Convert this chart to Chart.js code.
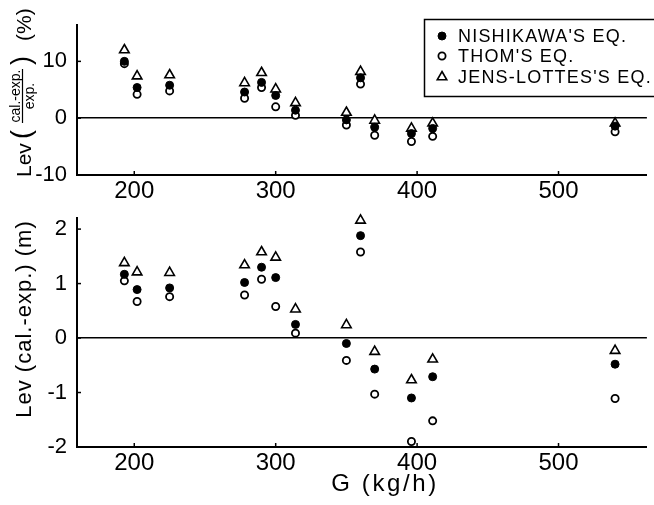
<!DOCTYPE html>
<html>
<head>
<meta charset="utf-8">
<script src="https://cdn.jsdelivr.net/npm/chart.js@4.4.1/dist/chart.umd.min.js"></script>
<style>
  html, body { margin: 0; padding: 0; background: #fff; }
  #wrap { position: relative; width: 654px; height: 505px; overflow: hidden; }
  #pctChart { position: absolute; left: 0; top: 0; }
  #devChart { position: absolute; left: 0; top: 195px; }
</style>
</head>
<body>
<div id="wrap">
  <canvas id="pctChart" width="654" height="205"></canvas>
  <canvas id="devChart" width="654" height="310"></canvas>
</div>
<script>
// mass flow rate G (kg/h) of each run
const gFlow = [193, 202, 225, 278, 290, 300, 314, 350, 360, 370, 396, 411, 540];

// relative error of Lev, (cal.-exp.)/exp. in %
const nishikawaPct = [10.0, 5.4, 5.8, 4.6, 6.3, 4.0, 1.4, -0.3, 7.1, -1.6, -2.7, -1.8, -1.4];
const thomPct = [9.6, 4.2, 4.8, 3.5, 5.4, 2.0, 0.5, -1.2, 6.0, -3.0, -4.1, -3.2, -2.4];
const jensPct = [12.0, 7.4, 7.6, 6.2, 8.0, 5.1, 2.7, 1.0, 8.2, -0.4, -1.8, -0.9, -0.9];

// absolute error of Lev, cal.-exp. in m
const nishikawaM = [1.17, 0.89, 0.92, 1.02, 1.30, 1.11, 0.25, -0.10, 1.88, -0.57, -1.10, -0.71, -0.48];
const thomM = [1.05, 0.67, 0.76, 0.79, 1.08, 0.58, 0.09, -0.41, 1.58, -1.03, -1.90, -1.52, -1.11];
const jensM = [1.38, 1.21, 1.20, 1.34, 1.58, 1.48, 0.53, 0.24, 2.16, -0.25, -0.77, -0.39, -0.23];

const seriesLabels = ["NISHIKAWA'S EQ.", "THOM'S EQ.", "JENS-LOTTES'S EQ."];
const xTicks = [200, 300, 400, 500];
const pctTicks = [-10, 0, 10];
const mTicks = [-2, -1, 0, 1, 2];

const FONT = '"Liberation Sans", Arial, sans-serif';

const markerStyles = [
  { pointStyle: "circle", radius: 4, fill: "#000", borderWidth: 1 },
  { pointStyle: "circle", radius: 3.6, fill: "#fff", borderWidth: 1.8 },
  { pointStyle: "triangle", radius: 5.5, fill: "#fff", borderWidth: 1.6 },
];

function toPoints(ys) {
  return gFlow.map((g, i) => ({ x: g, y: ys[i] }));
}

function buildDatasets(seriesList) {
  return seriesList.map((ys, i) => ({
    label: seriesLabels[i],
    data: toPoints(ys),
    showLine: false,
    clip: false,
    pointStyle: markerStyles[i].pointStyle,
    pointRadius: markerStyles[i].radius,
    pointHoverRadius: markerStyles[i].radius,
    pointBackgroundColor: markerStyles[i].fill,
    pointBorderColor: "#000",
    pointBorderWidth: markerStyles[i].borderWidth,
  }));
}

// small inward tick marks on both axes
const innerTicks = {
  id: "innerTicks",
  afterDraw(chart) {
    const { ctx, chartArea, scales } = chart;
    ctx.save();
    ctx.strokeStyle = "#000";
    ctx.lineWidth = 1.5;
    for (const t of scales.x.ticks) {
      const px = scales.x.getPixelForValue(t.value);
      ctx.beginPath();
      ctx.moveTo(px, chartArea.bottom);
      ctx.lineTo(px, chartArea.bottom - 4);
      ctx.stroke();
    }
    for (const t of scales.y.ticks) {
      const py = scales.y.getPixelForValue(t.value);
      ctx.beginPath();
      ctx.moveTo(chartArea.left, py);
      ctx.lineTo(chartArea.left + 4, py);
      ctx.stroke();
    }
    ctx.restore();
  },
};

function scaleOptions(yMin, yMax, yTicks, xHeight, xPad) {
  return {
    x: {
      type: "linear",
      min: 159.5,
      max: 562.5,
      afterBuildTicks: (axis) => { axis.ticks = xTicks.map((v) => ({ value: v })); },
      afterFit: (axis) => { axis.height = xHeight; },
      grid: { display: true, drawOnChartArea: false, drawTicks: false, color: "rgba(0,0,0,0)" },
      border: { display: true, color: "#000", width: 2 },
      ticks: { color: "#000", font: { family: FONT, size: 24 }, padding: xPad, maxRotation: 0, autoSkip: false },
    },
    y: {
      type: "linear",
      min: yMin,
      max: yMax,
      afterBuildTicks: (axis) => { axis.ticks = yTicks.map((v) => ({ value: v })); },
      afterFit: (axis) => { axis.width = 77; },
      grid: {
        drawTicks: false,
        lineWidth: 1.5,
        color: (c) => (c.tick && c.tick.value === 0 ? "#000" : "rgba(0,0,0,0)"),
      },
      border: { display: true, color: "#000", width: 2 },
      ticks: { color: "#000", font: { family: FONT, size: 22 }, padding: 10 },
    },
  };
}

// y title of the upper panel, with the stacked fraction
const pctTitle = {
  id: "pctTitle",
  afterDraw(chart) {
    const ctx = chart.ctx;
    ctx.save();
    ctx.translate(31, 177);
    ctx.rotate(-Math.PI / 2);
    ctx.fillStyle = "#000";
    ctx.strokeStyle = "#000";
    ctx.textBaseline = "alphabetic";
    ctx.textAlign = "left";

    ctx.font = `21px ${FONT}`;
    ctx.fillText("Lev", 0, 0);

    ctx.font = `27px ${FONT}`;
    ctx.fillText("(", 38, -1);
    ctx.fillText(")", 112, -1);

    ctx.font = `14px ${FONT}`;
    ctx.textAlign = "center";
    ctx.fillText("cal.-exp.", 81, -11);
    ctx.fillText("exp.", 81, 3);
    ctx.lineWidth = 1.2;
    ctx.beginPath();
    ctx.moveTo(54, -8.5);
    ctx.lineTo(108, -8.5);
    ctx.stroke();

    ctx.textAlign = "left";
    ctx.font = `21px ${FONT}`;
    ctx.fillText("(%)", 136, 0);
    ctx.restore();
  },
};

// legend box in the upper right corner
const legendBox = {
  id: "legendBox",
  afterDraw(chart) {
    const ctx = chart.ctx;
    ctx.save();
    ctx.strokeStyle = "#000";
    ctx.lineWidth = 1.5;
    ctx.strokeRect(424.5, 19.5, 260, 77);
    const rows = [36, 56, 77];
    rows.forEach((y, i) => {
      const m = markerStyles[i];
      ctx.fillStyle = m.fill;
      ctx.strokeStyle = "#000";
      ctx.lineWidth = m.borderWidth;
      Chart.helpers.drawPoint(ctx, { pointStyle: m.pointStyle, radius: m.radius, borderWidth: m.borderWidth, rotation: 0 }, 442, y);
      ctx.fillStyle = "#000";
      ctx.font = `18px ${FONT}`;
      ctx.letterSpacing = "1.2px";
      ctx.textBaseline = "middle";
      ctx.textAlign = "left";
      ctx.fillText(seriesLabels[i], 458, y + 1);
    });
    ctx.restore();
  },
};

// y title and x title of the lower panel
const devTitles = {
  id: "devTitles",
  afterDraw(chart) {
    const ctx = chart.ctx;
    ctx.save();
    ctx.fillStyle = "#000";
    ctx.textAlign = "center";
    ctx.textBaseline = "alphabetic";
    ctx.font = `22px ${FONT}`;
    ctx.letterSpacing = "1px";
    ctx.translate(31, 124);
    ctx.rotate(-Math.PI / 2);
    ctx.fillText("Lev (cal.-exp.) (m)", 0, 0);
    ctx.restore();

    ctx.save();
    ctx.fillStyle = "#000";
    ctx.textAlign = "center";
    ctx.textBaseline = "middle";
    ctx.font = `24px ${FONT}`;
    ctx.letterSpacing = "2.6px";
    ctx.fillText("G (kg/h)", 385, 289);
    ctx.restore();
  },
};

const baseOptions = {
  responsive: false,
  devicePixelRatio: 1,
  animation: false,
  events: [],
  plugins: { legend: { display: false }, tooltip: { enabled: false } },
};

new Chart(document.getElementById("pctChart"), {
  type: "scatter",
  data: { datasets: buildDatasets([nishikawaPct, thomPct, jensPct]) },
  options: {
    ...baseOptions,
    layout: { padding: { top: 25, right: 0, left: 0, bottom: 0 } },
    scales: scaleOptions(-10, 16.4, pctTicks, 30, 2),
  },
  plugins: [innerTicks, pctTitle, legendBox],
});

new Chart(document.getElementById("devChart"), {
  type: "scatter",
  data: { datasets: buildDatasets([nishikawaM, thomM, jensM]) },
  options: {
    ...baseOptions,
    layout: { padding: { top: 10, right: 0, left: 0, bottom: 0 } },
    scales: scaleOptions(-2, 2.2, mTicks, 58, 2),
  },
  plugins: [innerTicks, devTitles],
});
</script>
</body>
</html>
